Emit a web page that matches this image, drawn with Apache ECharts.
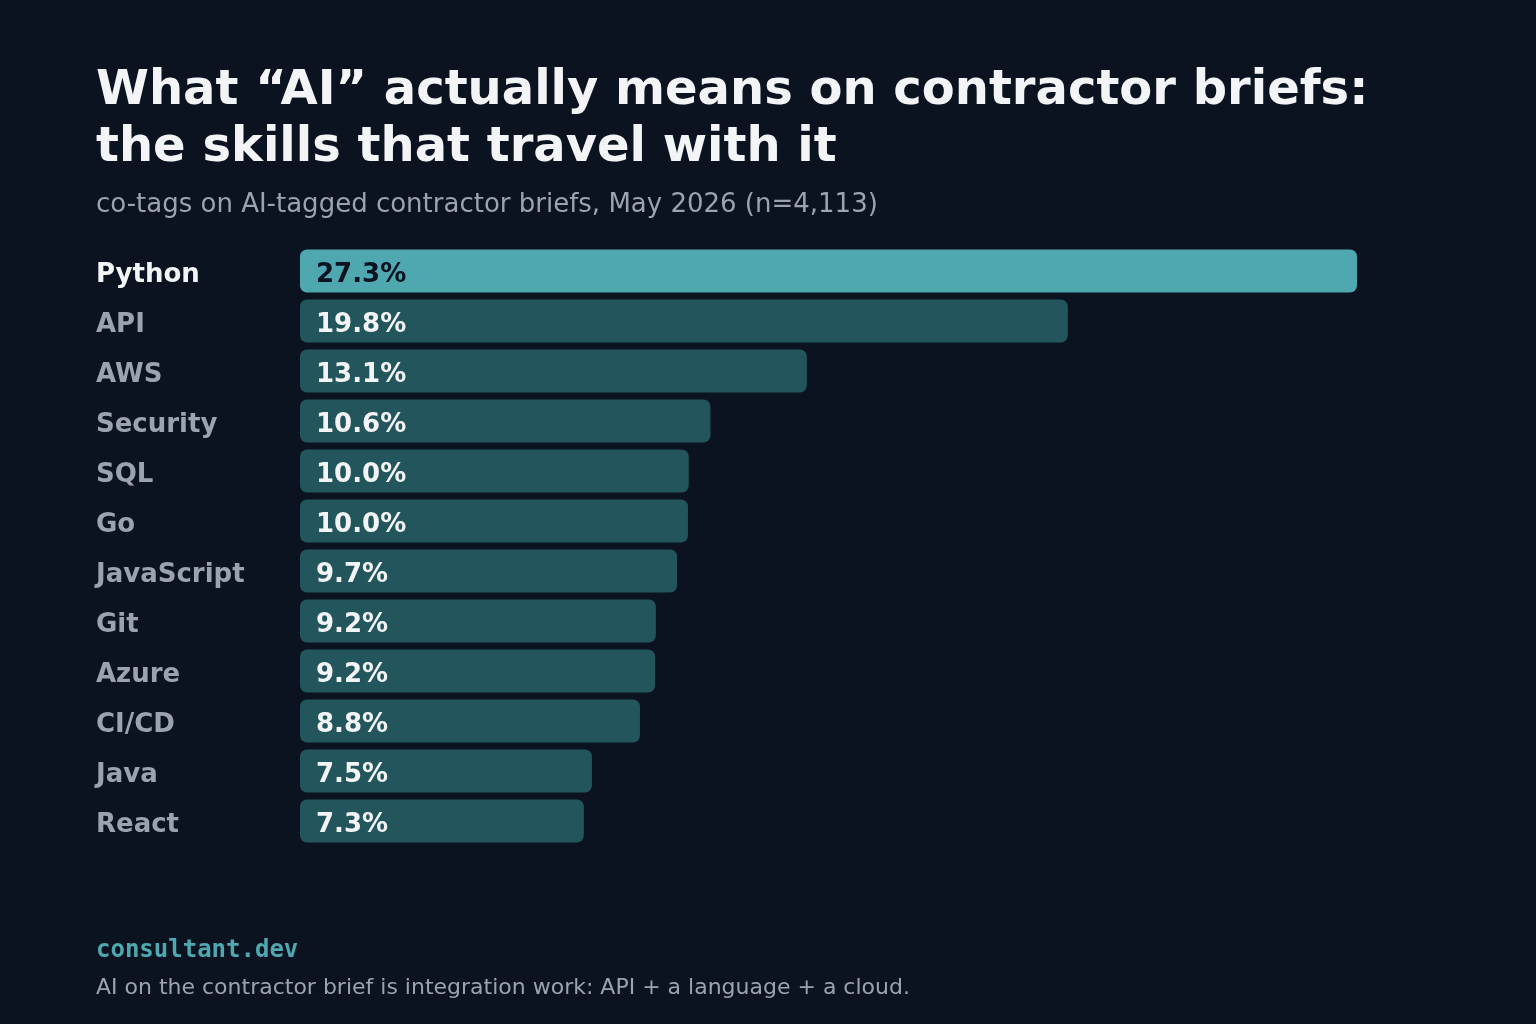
<!DOCTYPE html>
<html>
<head>
<meta charset="utf-8">
<style>
  html, body { margin: 0; padding: 0; background: #0b1220; }
  #chart { width: 1536px; height: 1024px; }
</style>
<script src="https://cdn.jsdelivr.net/npm/echarts@6/dist/echarts.min.js"></script>
</head>
<body>
<div id="chart"></div>
<script>
// skills co-tagged on AI briefs, top to bottom
const skills = ['Python', 'API', 'AWS', 'Security', 'SQL', 'Go', 'JavaScript', 'Git', 'Azure', 'CI/CD', 'Java', 'React'];
const shares = [27.3, 19.83, 13.09, 10.6, 10.04, 10.02, 9.74, 9.19, 9.17, 8.78, 7.54, 7.33];

const titleText = 'What \u201cAI\u201d actually means on contractor briefs:\nthe skills that travel with it';
const subtitleText = 'co-tags on AI-tagged contractor briefs, May 2026 (n=4,113)';
const brandText = 'consultant.dev';
const noteText = 'AI on the contractor brief is integration work: API + a language + a cloud.';

const font = 'DejaVu Sans';
const bg = '#0b1220';
const accent = '#4fa8b0';
const muted = '#23565c';

const chart = echarts.init(document.getElementById('chart'), null, { renderer: 'canvas' });

chart.setOption({
  backgroundColor: bg,
  animation: false,
  title: [
    {
      text: titleText,
      left: 96, top: 63, padding: 0,
      textStyle: { color: '#f3f4f6', fontFamily: font, fontWeight: 'bold', fontSize: 48, lineHeight: 57 }
    },
    {
      text: subtitleText,
      left: 96, top: 192, padding: 0,
      textStyle: { color: '#9aa3b2', fontFamily: font, fontWeight: 'normal', fontSize: 26 }
    },
    {
      text: brandText,
      left: 96, top: 939, padding: 0,
      textStyle: { color: accent, fontFamily: 'DejaVu Sans Mono', fontWeight: 'bold', fontSize: 24 }
    },
    {
      text: noteText,
      left: 96, top: 977, padding: 0,
      textStyle: { color: '#9aa3b2', fontFamily: font, fontWeight: 'normal', fontSize: 22 }
    }
  ],
  grid: { left: 300, top: 246, width: 1057, height: 600, containLabel: false },
  xAxis: {
    type: 'value',
    min: 0,
    max: 27.3,
    show: false
  },
  yAxis: {
    type: 'category',
    data: skills,
    inverse: true,
    axisLine: { show: false },
    axisTick: { show: false },
    splitLine: { show: false },
    axisLabel: {
      align: 'left',
      margin: 204,
      padding: [8, 0, 0, 0],
      fontFamily: font,
      fontWeight: 'bold',
      fontSize: 26,
      color: '#9aa3b2',
      formatter: (v, i) => i === 0 ? '{hi|' + v + '}' : v,
      rich: {
        hi: { color: '#f3f4f6', fontFamily: font, fontWeight: 'bold', fontSize: 26 }
      }
    }
  },
  series: [{
    type: 'bar',
    barWidth: 43,
    data: shares.map((v, i) => ({
      value: v,
      itemStyle: { color: i === 0 ? accent : muted, borderRadius: 7 },
      label: { color: i === 0 ? bg : '#f3f4f6' }
    })),
    label: {
      show: true,
      position: 'insideLeft',
      distance: 16,
      offset: [0, 4],
      fontFamily: font,
      fontWeight: 'bold',
      fontSize: 26,
      formatter: p => p.value.toFixed(1) + '%'
    }
  }]
});
</script>
</body>
</html>
